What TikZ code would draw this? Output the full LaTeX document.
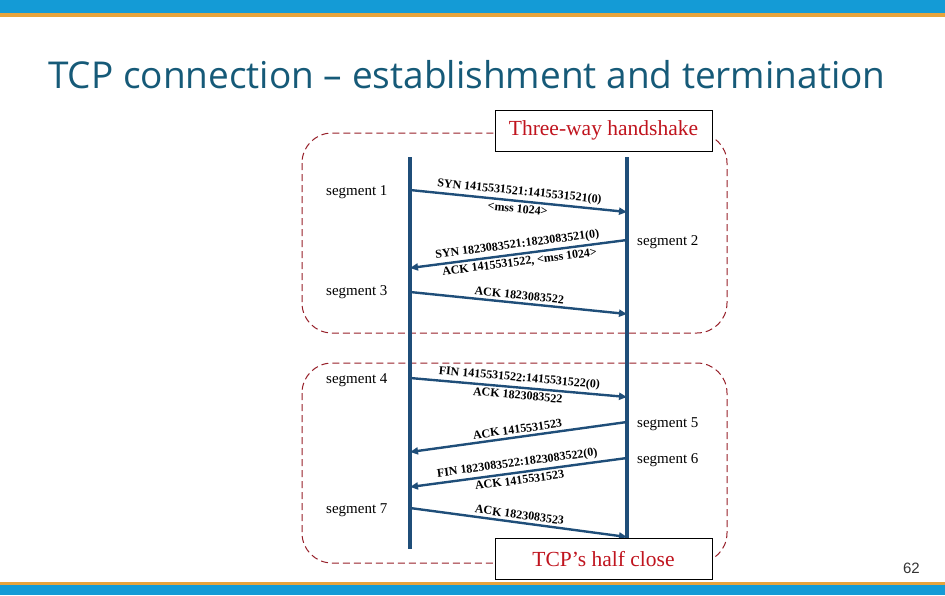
\documentclass[tikz,border=0pt]{standalone}
\usepackage{fontspec}
\setmainfont{Liberation Serif}
\newfontfamily\titlefont[Ligatures=NoCommon]{Open Sans}
\newfontfamily\numfont{Liberation Sans}
\usetikzlibrary{arrows.meta}
\definecolor{barblue}{RGB}{20,155,214}
\definecolor{barorange}{RGB}{232,164,60}
\definecolor{titleteal}{RGB}{22,90,120}
\definecolor{lifeblue}{RGB}{31,78,121}
\definecolor{dashred}{RGB}{150,30,40}
\definecolor{boxred}{RGB}{192,20,30}
\begin{document}
\begin{tikzpicture}[x=1pt, y=-1pt,
    life/.style={line width=4pt, lifeblue},
    msg/.style={line width=2.4pt, lifeblue, -{Triangle[length=8pt,width=7pt]}},
    msgback/.style={line width=2.4pt, lifeblue, {Triangle[length=8pt,width=7pt]}-},
    lbl/.style={font=\fontsize{12}{13}\selectfont\bfseries, text=black, inner sep=2.5pt, sloped, midway},
    seg/.style={font=\fontsize{15}{16}\selectfont, anchor=west, inner sep=0pt},
    phase/.style={draw=dashred, dash pattern=on 7pt off 4pt, line width=1pt, rounded corners=30pt},
    tag/.style={draw=black, line width=1pt, fill=white, text=boxred, font=\fontsize{21.5}{22}\selectfont, minimum width=217pt, minimum height=41pt, inner sep=0pt}]
    \useasboundingbox (0,0) rectangle (945,595);

    % Barras
    \fill[barblue] (0,0) rectangle (945,13);
    \fill[barorange] (0,13) rectangle (945,17);
    \fill[barorange] (0,582) rectangle (945,585);
    \fill[barblue] (0,585) rectangle (945,595);

    % Titulo
    \node[anchor=base west, inner sep=0pt, text=titleteal, font=\titlefont\fontsize{37}{42}\selectfont] (title) at (48,88) {TCP connection – establishment and termination};

    % Fases
    \draw[phase] (302,133) rectangle (727,333);
    \draw[phase] (302,363) rectangle (727,563);

    % Lineas de tiempo
    \coordinate (L0) at (410,157);
    \coordinate (L1) at (410,549);
    \coordinate (R0) at (627,157);
    \coordinate (R1) at (627,545);
    \draw[life] (L0) -- (L1);
    \draw[life] (R0) -- (R1);

    % Extremos de los segmentos
    \coordinate (s1a) at (410,190);  \coordinate (s1b) at (627,212);
    \coordinate (s2a) at (410,268);  \coordinate (s2b) at (627,240);
    \coordinate (s3a) at (410,292);  \coordinate (s3b) at (627,314);
    \coordinate (s4a) at (410,378);  \coordinate (s4b) at (627,397);
    \coordinate (s5a) at (410,452);  \coordinate (s5b) at (627,422);
    \coordinate (s6a) at (410,487);  \coordinate (s6b) at (627,458);
    \coordinate (s7a) at (410,508);  \coordinate (s7b) at (627,537);

    % Apertura
    \draw[msg] (s1a) -- (s1b) node[lbl, above] {SYN 1415531521:1415531521(0)} node[lbl, below] {<mss 1024>};
    \draw[msgback] (s2a) -- (s2b) node[lbl, above] {SYN 1823083521:1823083521(0)} node[lbl, below] {ACK 1415531522, <mss 1024>};
    \draw[msg] (s3a) -- (s3b) node[lbl, above] {ACK 1823083522};

    % Cierre
    \draw[msg] (s4a) -- (s4b) node[lbl, above] {FIN 1415531522:1415531522(0)} node[lbl, below] {ACK 1823083522};
    \draw[msgback] (s5a) -- (s5b) node[lbl, above] {ACK 1415531523};
    \draw[msgback] (s6a) -- (s6b) node[lbl, above] {FIN 1823083522:1823083522(0)} node[lbl, below] {ACK 1415531523};
    \draw[msg] (s7a) -- (s7b) node[lbl, above] {ACK 1823083523};

    % Etiquetas de segmentos
    \node[seg] (g1) at (326,192) {segment 1};
    \node[seg] (g2) at (637,242) {segment 2};
    \node[seg] (g3) at (326,292) {segment 3};
    \node[seg] (g4) at (326,380) {segment 4};
    \node[seg] (g5) at (637,424) {segment 5};
    \node[seg] (g6) at (637,460) {segment 6};
    \node[seg] (g7) at (326,510) {segment 7};

    % Recuadros
    \node[tag] (hs) at (603.5,130.5) {Three-way handshake};
    \node[tag] (hc) at (603.5,559) {TCP’s half close};

    % Pagina
    \node[anchor=base east, inner sep=0pt, font=\numfont\fontsize{15}{16}\selectfont, text=black!80] (page) at (920,573) {62};
\end{tikzpicture}
\end{document}
